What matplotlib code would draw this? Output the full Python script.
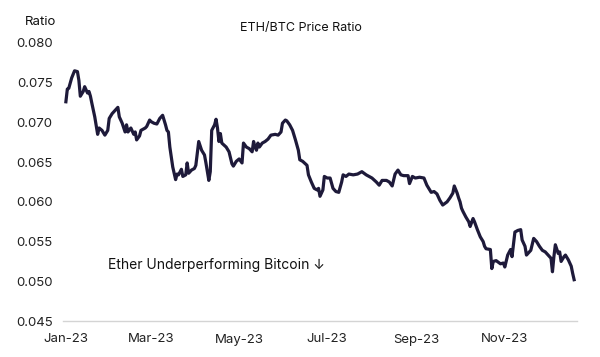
import matplotlib
matplotlib.use("Agg")
import matplotlib.pyplot as plt
import matplotlib.dates as mdates
import pandas as pd

plt.rcParams['font.family'] = ['Inter', 'DejaVu Sans']

# days since 2023-01-01
days = [0, 1, 2, 4, 6, 8, 9, 10, 12, 13, 15, 16, 17, 18, 20, 22, 23, 25, 27, 29,
        30, 32, 34, 36, 37, 39, 41, 42, 43, 45, 47, 48, 49, 51, 52, 55, 56, 58,
        59, 61, 63, 65, 67, 69, 70, 71, 72, 74, 76, 77, 78, 80, 81, 83, 84, 85,
        87, 89, 90, 92, 94, 96, 97, 99, 100, 101, 103, 104, 105, 106, 107, 108,
        111, 113, 115, 116, 118, 120, 122, 123, 125, 127, 129, 130, 131, 132, 133,
        134, 136, 138, 140, 142, 145, 147, 149, 150, 152, 153, 155, 157, 159, 161,
        162, 164, 167, 168, 170, 172, 174, 175, 176, 178, 179, 181, 183, 185, 187,
        189, 191, 192, 194, 196, 199, 202, 205, 208, 212, 215, 217, 219, 222, 224,
        226, 228, 230, 232, 234, 237, 238, 240, 242, 245, 248, 250, 253, 255, 257,
        259, 261, 264, 266, 268, 269, 271, 272, 273, 274, 275, 277, 279, 280, 282,
        283, 285, 287, 289, 290, 291, 294, 295, 296, 298, 301, 303, 304, 306, 308,
        309, 311, 313, 315, 316, 318, 319, 321, 322, 324, 326, 328, 330, 332, 334,
        336, 337, 338, 339, 341, 342, 343, 345, 346, 348, 350, 351, 352]

ratio = [0.0726, 0.0742, 0.0743, 0.0756, 0.0765, 0.0764, 0.0753, 0.0733, 0.0739,
         0.0745, 0.0737, 0.0739, 0.0733, 0.0724, 0.0707, 0.0685, 0.0693, 0.0690,
         0.0684, 0.0690, 0.0705, 0.0711, 0.0715, 0.0719, 0.0707, 0.0699, 0.0688,
         0.0697, 0.0688, 0.0693, 0.0685, 0.0688, 0.0678, 0.0683, 0.0690, 0.0693,
         0.0695, 0.0703,
         0.0701, 0.0699, 0.0698, 0.0705, 0.0709, 0.0697, 0.0690, 0.0688, 0.0669,
         0.0644, 0.0628, 0.0635, 0.0634, 0.0641, 0.0632, 0.0634, 0.0649, 0.0636,
         0.0640, 0.0642, 0.0646, 0.0676, 0.0665, 0.0659, 0.0649, 0.0627, 0.0638,
         0.0690, 0.0697, 0.0704, 0.0693, 0.0676, 0.0686, 0.0674, 0.0669, 0.0663,
         0.0648, 0.0645, 0.0651, 0.0654,
         0.0649, 0.0674, 0.0669, 0.0667, 0.0663, 0.0676, 0.0669, 0.0665, 0.0674,
         0.0669, 0.0674, 0.0676, 0.0679, 0.0684, 0.0685, 0.0684, 0.0688, 0.0699,
         0.0703, 0.0702, 0.0697, 0.0690, 0.0678, 0.0665, 0.0653, 0.0651, 0.0646,
         0.0634, 0.0625, 0.0617, 0.0615, 0.0617, 0.0607, 0.0615, 0.0632, 0.0630,
         0.0630, 0.0617, 0.0613, 0.0612, 0.0625, 0.0634, 0.0632, 0.0635, 0.0634,
         0.0635, 0.0638, 0.0634, 0.0630, 0.0625, 0.0621, 0.0627, 0.0627, 0.0625,
         0.0620, 0.0635, 0.0640, 0.0634, 0.0633, 0.0633, 0.0623, 0.0632, 0.0630,
         0.0631,
         0.0630, 0.0621, 0.0612, 0.0613, 0.0610, 0.0602, 0.0596, 0.0600, 0.0605,
         0.0611, 0.0620, 0.0611, 0.0605, 0.0600, 0.0592, 0.0588, 0.0581, 0.0575,
         0.0569, 0.0579, 0.0575, 0.0565, 0.0556, 0.0550, 0.0544, 0.0541, 0.0540,
         0.0516, 0.0525, 0.0526, 0.0522, 0.0523, 0.0518, 0.0533, 0.0540,
         0.0531, 0.0562, 0.0564, 0.0565, 0.0552, 0.0544, 0.0533, 0.0537, 0.0539,
         0.0554, 0.0550, 0.0544, 0.0539, 0.0537, 0.0533, 0.0529, 0.0512, 0.0531,
         0.0546, 0.0535, 0.0537, 0.0525, 0.0531, 0.0533, 0.0527, 0.0519, 0.0510,
         0.0502]

y_ticks = [0.045, 0.050, 0.055, 0.060, 0.065, 0.070, 0.075, 0.080]
title = "ETH/BTC Price Ratio"
y_label = "Ratio"
note = "Ether Underperforming Bitcoin \u2193"

start = pd.Timestamp("2023-01-01")
dates = start + pd.to_timedelta(days, unit="D")

fig = plt.figure(figsize=(6.0, 3.57), dpi=100)
ax = fig.add_axes([63/600, 1-321/357, (577-63)/600, (321-43)/357])

line_color = "#1e1a3a"
ax.plot(dates, ratio, color=line_color, lw=2.3, solid_joinstyle="round")

ax.set_ylim(0.045, 0.080)
ax.set_yticks(y_ticks)
ax.yaxis.set_major_formatter(matplotlib.ticker.FormatStrFormatter("%.3f"))
ax.set_xlim(start - pd.Timedelta(days=2), start + pd.Timedelta(days=354))
ax.xaxis.set_major_locator(mdates.MonthLocator(bymonth=[1, 3, 5, 7, 9, 11]))
ax.xaxis.set_major_formatter(mdates.DateFormatter("%b-%y"))

for s in ["top", "right", "left"]:
    ax.spines[s].set_visible(False)
ax.spines["bottom"].set_color("#d4d4d4")
ax.spines["bottom"].set_linewidth(1.0)
ax.tick_params(axis="both", length=0, labelsize=9.5, colors="#222222")
ax.tick_params(axis="y", pad=7.5)
ax.tick_params(axis="x", pad=9)

fig.text(25/600, 1-22/357, y_label, ha="left", va="center", fontsize=9.5, color="#111111")
fig.text(301/600, 1-28/357, title, ha="center", va="center", fontsize=9.0, color="#111111")
ax.text(start + pd.Timedelta(days=29), 0.0521, note, ha="left", va="center",
        fontsize=10, color="#111111", family=["Inter", "DejaVu Sans"])

fig.savefig("out.png", dpi=100)
